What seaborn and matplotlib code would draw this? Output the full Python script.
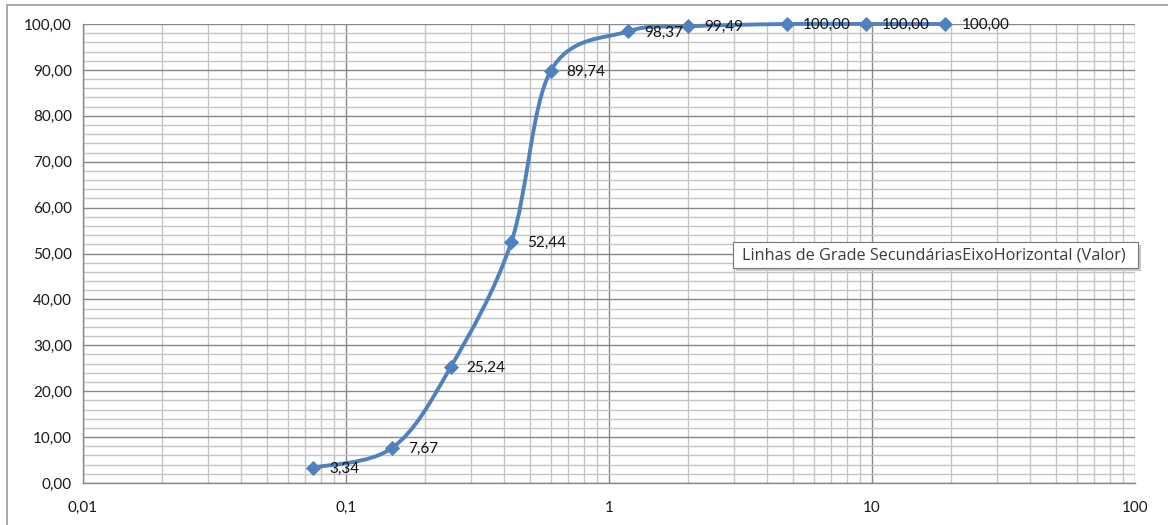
import numpy as np
import pandas as pd
import matplotlib
matplotlib.use("Agg")
import matplotlib.pyplot as plt
from matplotlib.path import Path
from matplotlib.patches import PathPatch, Rectangle
from matplotlib.ticker import FixedLocator, FuncFormatter, MultipleLocator, NullFormatter
import seaborn as sns

# Sieve openings (mm) and cumulative percent passing
sieve_mm = [0.075, 0.15, 0.25, 0.425, 0.6, 1.18, 2.0, 4.75, 9.5, 19.0]
passing = [3.34, 7.67, 25.24, 52.44, 89.74, 98.37, 99.49, 100.00, 100.00, 100.00]
x_ticks = [0.01, 0.1, 1, 10, 100]
x_tick_labels = ["0,01", "0,1", "1", "10", "100"]
tooltip_text = "Linhas de Grade SecundáriasEixoHorizontal (Valor)"

df = pd.DataFrame({"abertura": sieve_mm, "passante": passing})

sns.set_style("white")
plt.rcParams["font.family"] = ["Lato", "DejaVu Sans"]

W, H, DPI = 1168, 525, 100
fig = plt.figure(figsize=(W / DPI, H / DPI), dpi=DPI)
ax = fig.add_axes([83 / W, 1 - 483 / H, (1135 - 83) / W, (483 - 24) / H])

BLUE = "#4F81BD"
MAJOR = "#878787"
MINOR = "#c4c4c4"

ax.set_xscale("log")
ax.set_xlim(0.01, 100)
ax.set_ylim(0, 100)

# grid: decades and every 10 % as major, 2..9 and every 2 % as minor
ax.xaxis.set_major_locator(FixedLocator(x_ticks))
ax.xaxis.set_major_formatter(FuncFormatter(lambda v, p: x_tick_labels[x_ticks.index(v)] if v in x_ticks else ""))
minor_x = [m * 10.0 ** e for e in range(-2, 2) for m in range(2, 10)]
ax.xaxis.set_minor_locator(FixedLocator(minor_x))
ax.xaxis.set_minor_formatter(NullFormatter())
ax.yaxis.set_major_locator(MultipleLocator(10))
ax.yaxis.set_minor_locator(MultipleLocator(2))
ax.yaxis.set_major_formatter(FuncFormatter(lambda v, p: f"{v:.2f}".replace(".", ",")))

ax.grid(which="minor", color=MINOR, linewidth=1.0, zorder=0)
ax.grid(which="major", color=MAJOR, linewidth=1.0, zorder=0.5)
ax.set_axisbelow(True)

for side in ["top", "right"]:
    ax.spines[side].set_visible(False)
for side in ["left", "bottom"]:
    ax.spines[side].set_color(MAJOR)
    ax.spines[side].set_linewidth(1.0)

ax.tick_params(axis="both", which="major", length=5, width=1.0, color=MAJOR,
               labelsize=11, labelcolor="#1a1a1a", direction="out")
ax.tick_params(axis="y", which="major", pad=3)
ax.tick_params(axis="x", which="major", pad=8)
ax.tick_params(axis="both", which="minor", length=0)

# smoothed connecting line: cubic Bezier through the points (in log-x space)
lx = np.log10(np.array(sieve_mm))
ly = np.array(passing, dtype=float)
P = np.column_stack([lx, ly])
n = len(P)
verts = [P[0]]
codes = [Path.MOVETO]
for i in range(n - 1):
    p_prev = P[i - 1] if i > 0 else P[i]
    p_next2 = P[i + 2] if i + 2 < n else P[i + 1]
    c1 = P[i] + (P[i + 1] - p_prev) / 6.0
    c2 = P[i + 1] - (p_next2 - P[i]) / 6.0
    verts += [c1, c2, P[i + 1]]
    codes += [Path.CURVE4] * 3
verts = np.array(verts)
verts[:, 0] = 10.0 ** verts[:, 0]
curve = PathPatch(Path(verts, codes), facecolor="none", edgecolor=BLUE,
                  linewidth=2.8, capstyle="round", joinstyle="round", zorder=3,
                  clip_on=False)
ax.add_patch(curve)

sns.scatterplot(data=df, x="abertura", y="passante", marker="D", s=60,
                color=BLUE, edgecolor=BLUE, linewidth=0, zorder=4, ax=ax,
                legend=False, clip_on=False)
ax.set_xlabel("")
ax.set_ylabel("")

for xv, yv in zip(sieve_mm, passing):
    ax.annotate(f"{yv:.2f}".replace(".", ","), xy=(xv, yv), xytext=(16, -1),
                textcoords="offset pixels", ha="left", va="center",
                fontsize=11, color="#111111", zorder=5, annotation_clip=False)

# chart area frame
fig.add_artist(Rectangle((7 / W, -0.05), 1.2, (H - 5) / H + 0.05,
                         transform=fig.transFigure, facecolor="none",
                         edgecolor="#9a9a9a", linewidth=1.2))

# hover tooltip box
fig.add_artist(Rectangle((736 / W, 1 - 271 / H), 405 / W, 26 / H, transform=fig.transFigure,
                         facecolor="#c8c8c8", edgecolor="none", zorder=9))
fig.add_artist(Rectangle((733 / W, 1 - 268 / H), 405 / W, 26 / H, transform=fig.transFigure,
                         facecolor="white", edgecolor="#767676", linewidth=0.8, zorder=10))
fig.text(742 / W, 1 - 255 / H, tooltip_text, ha="left", va="center",
         fontsize=11.7, color="#3b3b3b", family=["Open Sans", "DejaVu Sans"], zorder=11)

fig.savefig("out.png", dpi=DPI)
